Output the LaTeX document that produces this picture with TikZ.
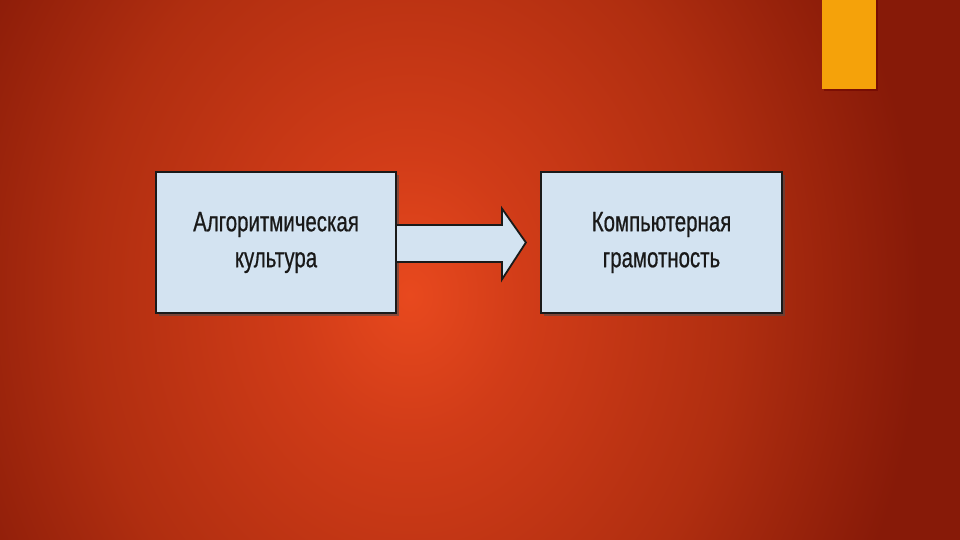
\documentclass[tikz,border=0pt]{standalone}
\usepackage{fontspec}
\setmainfont{Liberation Sans}
\newfontfamily\narrowsans[FakeStretch=0.73,FakeBold=0.6]{Liberation Sans}
\usetikzlibrary{calc}
\definecolor{bgin}{HTML}{E8491E}
\definecolor{bgmid}{HTML}{D13C18}
\definecolor{bgdark}{HTML}{B02E10}
\definecolor{bgout}{HTML}{871A08}
\definecolor{boxfill}{HTML}{D3E3F1}
\definecolor{boxedge}{HTML}{1A1A1A}
\definecolor{accent}{HTML}{F5A20A}
\pgfdeclareradialshading{bgshade}{\pgfpoint{0bp}{0bp}}{color(0bp)=(bgin); color(5bp)=(bgmid); color(14bp)=(bgdark); color(22bp)=(bgout); color(50bp)=(bgout)}
\tikzset{
  blockbox/.style={draw=boxedge, line width=2.2pt, fill=boxfill, minimum width=240pt, minimum height=141pt,
    align=center, font=\narrowsans\fontsize{28}{36}\selectfont, text=black!90, inner sep=0pt},
  boxshadow/.style={fill=black!70, opacity=0.6},
  blockarrow/.style={draw=boxedge, line width=1.8pt, fill=boxfill, line join=miter}
}
\begin{document}
\begin{tikzpicture}[x=1pt,y=-1pt]
  \useasboundingbox (0,0) rectangle (960,540);
  \begin{scope}
    \clip (0,0) rectangle (960,540);
    \fill[bgout] (0,0) rectangle (960,540);
    \shade[shading=bgshade] (410,295) ellipse [x radius=580, y radius=700];
  \end{scope}
  % accent bar
  \fill[black!60!red, opacity=0.5] (824,0) rectangle (878,91);
  \fill[accent] (822,0) rectangle (876,89);
  % shadows
  \fill[boxshadow] (159,175) rectangle (399,316);
  \fill[boxshadow] (544,175) rectangle (785,316);
  % boxes
  \node[blockbox] (a) at (276,242.5) {Алгоритмическая\\культура};
  \node[blockbox, minimum width=241pt] (b) at (661.5,242.5) {Компьютерная\\грамотность};
  % block arrow
  \coordinate (tip) at ($(b.west)+(-14,0)$);
  \draw[blockarrow] ($(a.east)+(0,-17.5)$) -- ($(tip)+(-24,-17.5)$) -- ($(tip)+(-24,-34)$)
     -- (tip) -- ($(tip)+(-24,37)$) -- ($(tip)+(-24,19.5)$) -- ($(a.east)+(0,19.5)$);
\end{tikzpicture}
\end{document}
